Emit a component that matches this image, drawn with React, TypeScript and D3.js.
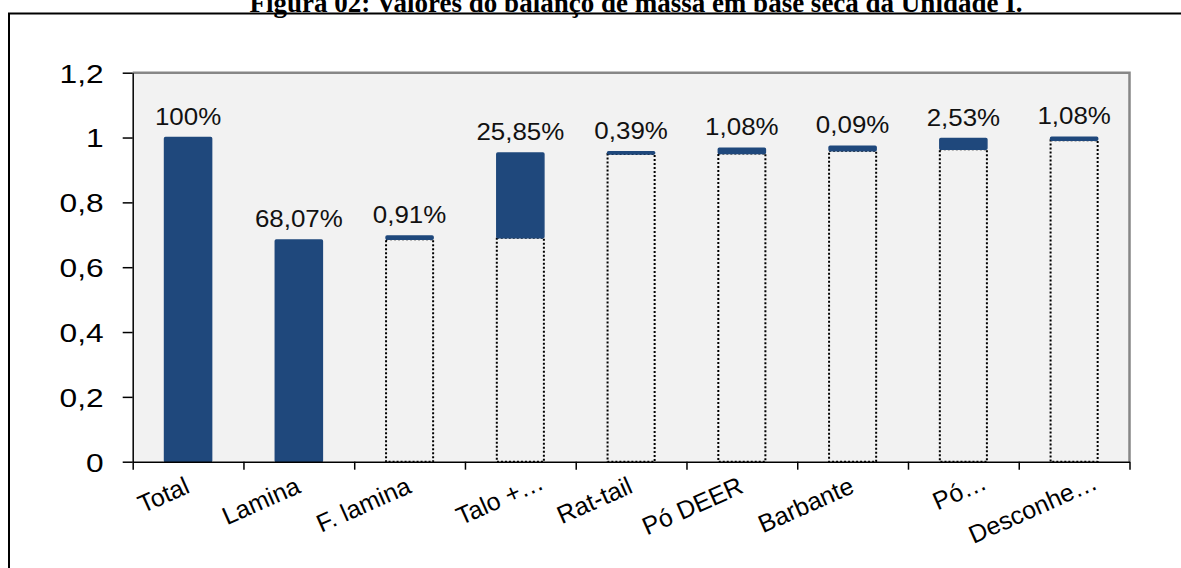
import React, { useRef, useEffect } from 'react';
import * as d3 from 'd3';

const categories = ['Total', 'Lamina', 'F. lamina', 'Talo +…', 'Rat-tail', 'Pó DEER', 'Barbante', 'Pó…', 'Desconhe…'];
// invisible (dotted) base of each waterfall step
const bases = [0, 0, 0.686, 0.691, 0.949, 0.951, 0.959, 0.964, 0.992];
// visible (blue) increment of each step
const increments = [1.0, 0.684, 0.01, 0.261, 0.007, 0.016, 0.014, 0.033, 0.009];
const valueLabels = ['100%', '68,07%', '0,91%', '25,85%', '0,39%', '1,08%', '0,09%', '2,53%', '1,08%'];
const yTicks = [0, 0.2, 0.4, 0.6, 0.8, 1, 1.2];
const yTickLabels = ['0', '0,2', '0,4', '0,6', '0,8', '1', '1,2'];

const W = 1181;
const H = 568;
const BLUE = '#1f487c';
const FONT = 'Arial, "Liberation Sans", sans-serif';

const plot = { left: 132.7, right: 1129.5, top: 72.7, bottom: 461.7 };

export default function App() {
  const yAxisRef = useRef<SVGGElement>(null);
  const xAxisRef = useRef<SVGGElement>(null);

  const x = d3.scaleBand<string>().domain(categories).range([plot.left, plot.right]).padding(0);
  const xEdge = d3.scaleLinear().domain([0, categories.length]).range([plot.left, plot.right]);
  const y = d3.scaleLinear().domain([0, 1.2]).range([plot.bottom, plot.top]);
  const barW = x.bandwidth() * 0.425;

  useEffect(() => {
    if (!yAxisRef.current || !xAxisRef.current) return;

    const ya = d3.select(yAxisRef.current);
    ya.selectAll('*').remove();
    ya.call(
      d3
        .axisLeft(y)
        .tickValues(yTicks)
        .tickSize(10)
        .tickSizeOuter(0)
        .tickFormat((_, i) => yTickLabels[i])
    );
    ya.selectAll('path.domain').attr('stroke', '#000').attr('stroke-width', 1.5);
    ya.selectAll('.tick line').attr('stroke', '#000').attr('stroke-width', 1.5);
    ya.selectAll('.tick text')
      .attr('x', -29 / 1.22)
      .attr('dy', '0.36em')
      .attr('transform', 'scale(1.22,1)')
      .attr('fill', '#000')
      .style('font-size', '26px')
      .style('font-family', FONT);

    const xa = d3.select(xAxisRef.current);
    xa.selectAll('*').remove();
    xa.call(
      d3
        .axisBottom(xEdge)
        .tickValues(d3.range(categories.length + 1))
        .tickSize(8)
        .tickSizeOuter(0)
        .tickFormat(() => '')
    );
    xa.selectAll('path.domain').attr('stroke', '#000').attr('stroke-width', 1.5);
    xa.selectAll('.tick line').attr('stroke', '#000').attr('stroke-width', 1.5);
  }, []);

  return (
    <svg
      width={W}
      height={H}
      style={{ position: 'absolute', left: 0, top: 0, background: '#fff' }}
    >
      <text
        x={636}
        y={12}
        textAnchor="middle"
        fontFamily='"Liberation Serif", "Times New Roman", serif'
        fontWeight="bold"
        fontSize={27}
      >
        Figura 02: Valores do balanço de massa em base seca da Unidade I.
      </text>
      <rect x={9} y={13.5} width={W + 20} height={H} fill="none" stroke="#000" strokeWidth={2} />

      {/* plot area */}
      <rect
        x={plot.left}
        y={plot.top}
        width={plot.right - plot.left}
        height={plot.bottom - plot.top}
        fill="#f2f2f2"
      />
      <path
        d={`M${plot.left},${plot.top}H${plot.right}V${plot.bottom}`}
        fill="none"
        stroke="#878787"
        strokeWidth={2.5}
      />

      {/* dotted invisible bases */}
      {categories.map((c, i) =>
        bases[i] > 0 ? (
          <rect
            key={'b' + c}
            x={(x(c) || 0) + (x.bandwidth() - barW) / 2}
            y={y(bases[i])}
            width={barW}
            height={y(0) - y(bases[i])}
            fill="none"
            stroke="#000"
            strokeWidth={2}
            strokeDasharray="2,2"
          />
        ) : null
      )}

      {/* blue increments */}
      {categories.map((c, i) => (
        <rect
          key={'v' + c}
          x={(x(c) || 0) + (x.bandwidth() - barW) / 2}
          y={y(bases[i] + increments[i])}
          width={barW}
          height={y(bases[i]) - y(bases[i] + increments[i])}
          fill={BLUE}
          stroke={BLUE}
          strokeWidth={1.5}
          rx={1}
        />
      ))}

      <g ref={yAxisRef} transform={`translate(${plot.left},0)`} />
      <g ref={xAxisRef} transform={`translate(0,${plot.bottom})`} />

      {/* value labels */}
      {categories.map((c, i) => (
        <text
          key={'l' + c}
          transform={`translate(${(x(c) || 0) + x.bandwidth() / 2},${y(bases[i] + increments[i]) - 13}) scale(1.08,1)`}
          textAnchor="middle"
          fontFamily={FONT}
          fontSize={24}
          fill="#111"
        >
          {valueLabels[i]}
        </text>
      ))}

      {/* category labels */}
      {categories.map((c) => {
        const cx = (x(c) || 0) + x.bandwidth() / 2;
        const ell = c.endsWith('…');
        return (
          <text
            key={'c' + c}
            transform={`translate(${cx + (ell ? 25 : 3)},${ell ? 488 : 492}) rotate(-24)`}
            textAnchor="end"
            fontFamily={FONT}
            fontSize={25}
            fill="#000"
          >
            {c}
          </text>
        );
      })}
    </svg>
  );
}
